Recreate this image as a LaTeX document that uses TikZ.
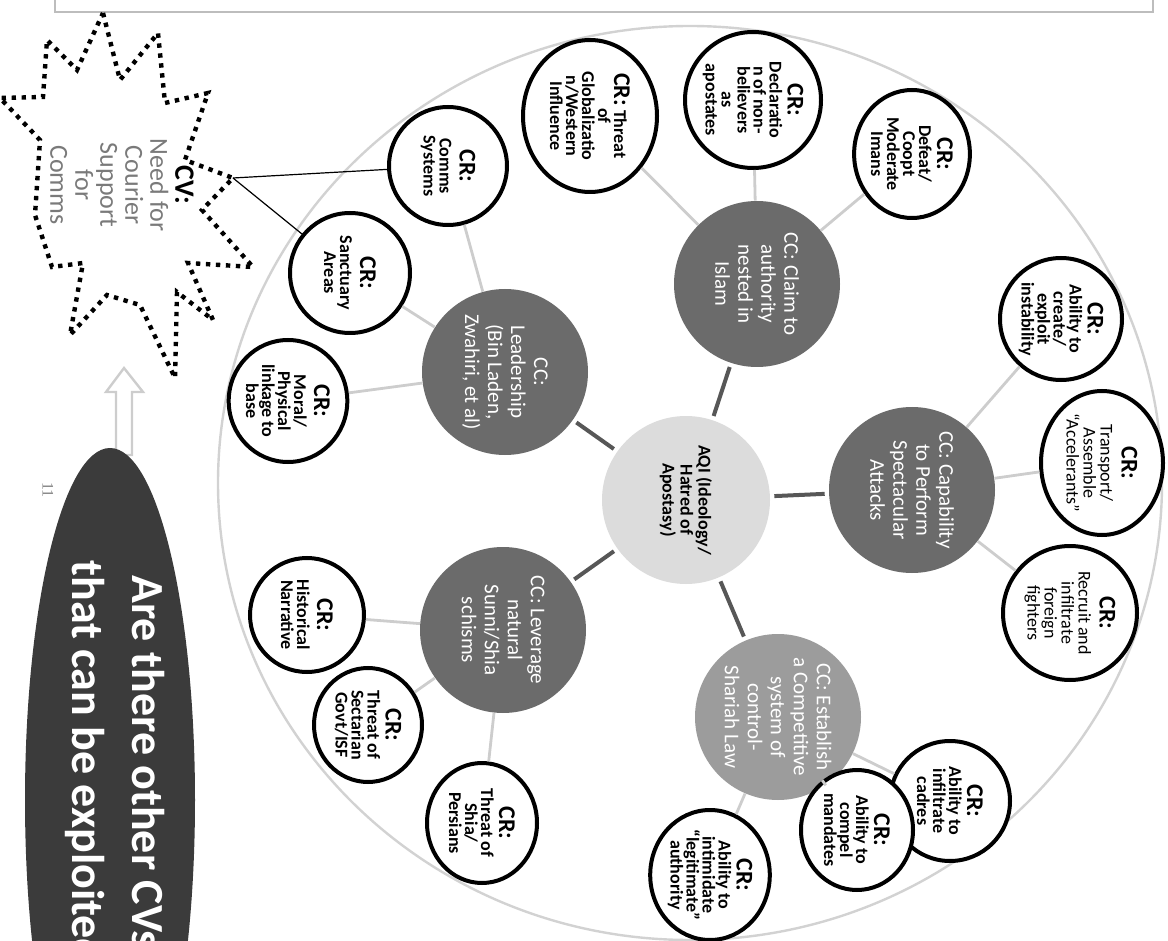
\documentclass[tikz,border=0pt]{standalone}
\usepackage{fontspec}
\setmainfont{Carlito}
\newfontfamily\numfont{Liberation Serif}
\usetikzlibrary{shapes.geometric}
\definecolor{ccdark}{HTML}{6B6B6B}
\definecolor{cclight}{HTML}{9C9C9C}
\definecolor{aqifill}{HTML}{DCDCDC}
\definecolor{spokegray}{HTML}{575757}
\definecolor{twiggray}{HTML}{CDCDCD}
\definecolor{rimgray}{HTML}{D2D2D2}
\definecolor{boxgray}{HTML}{BDBDBD}
\definecolor{askfill}{HTML}{3B3B3B}
\definecolor{cvgray}{HTML}{7A7A7A}
\tikzset{
  crnode/.style={circle, draw=black, line width=2pt, fill=white, minimum size=59pt,
    inner sep=0pt, align=center, rotate=-90, font=\fontsize{9}{8}\selectfont\bfseries},
  ccnode/.style={circle, fill=ccdark, minimum size=83pt, inner sep=0pt, align=center,
    rotate=-90, text=white, font=\fontsize{10.5}{11.5}\selectfont},
  aqinode/.style={circle, fill=aqifill, minimum size=84pt, inner sep=0pt, align=center,
    rotate=-90, font=\fontsize{9}{9}\selectfont\bfseries},
  spoke/.style={draw=spokegray, line width=2pt, shorten <=2pt, shorten >=2pt},
  twig/.style={draw=twiggray, line width=1.4pt},
  cvstar/.style={draw=black, line width=2.2pt, dash pattern=on 2.2pt off 2.8pt, fill=white},
  cvlink/.style={draw=black, line width=0.6pt},
}
\newcommand{\crhead}{{\fontsize{12}{12}\selectfont CR:}}
\begin{document}
\begin{tikzpicture}[x=0.5pt, y=-0.5pt]
  \useasboundingbox (0,0) rectangle (1168,941);
  \clip (0,0) rectangle (1168,941);
  % slide title frame and outer ring
  \draw[boxgray, line width=0.8pt] (55,-20) rectangle (1153,12);
  \draw[rimgray, line width=1.2pt] (690,483) ellipse [x radius=236pt, y radius=228.5pt];

  % centre and critical capabilities
  \node[aqinode] (aqi) at (686,500) {AQI (Ideology/\\Hatred of\\Apostasy)};
  \node[ccnode] (lead) at (505,372) {CC:\\Leadership\\(Bin Laden,\\Zwahiri, et al)};
  \node[ccnode] (claim) at (757,284) {CC: Claim to\\authority\\nested in\\Islam};
  \node[ccnode] (capab) at (912,490) {CC: Capability\\to Perform\\Spectacular\\Attacks};
  \node[ccnode, fill=cclight] (estab) at (778,717) {CC: Establish\\a Competitive\\system of\\control-\\Shariah Law};
  \node[ccnode] (lever) at (503,630) {CC: Leverage\\natural\\Sunni/Shia\\schisms};

  % critical requirements
  \node[crnode] (comms) at (448,166) {\crhead\\[2pt]Comms\\Systems};
  \node[crnode, minimum size=60pt] (sanct) at (350,273) {\crhead\\[2pt]Sanctuary\\Areas};
  \node[crnode, ellipse, minimum width=61pt, minimum height=58pt] (moral) at (288,401) {\crhead\\[2pt]Moral/\\Physical\\linkage to\\base};
  \node[crnode, ellipse, minimum width=76pt, minimum height=67pt] (glob) at (590,116) {\crhead{} Threat\\of\\Globalizatio\\n/Western\\Influence};
  \node[crnode, minimum size=68pt] (decl) at (753,100) {\crhead\\[1pt]Declaratio\\n of non-\\believers\\as\\apostates};
  \node[crnode, ellipse, minimum width=64pt, minimum height=57pt] (defeat) at (912,154) {\crhead\\[1pt]Defeat/\\Coopt\\Moderate\\Imans};
  \node[crnode, minimum size=61pt] (instab) at (1061,319) {\crhead\\[1pt]Ability to\\create/\\exploit\\instability};
  \node[crnode, ellipse, minimum width=72pt, minimum height=61pt, font=\fontsize{9}{8.5}\selectfont] (transp) at (1102,463) {\textbf{\crhead}\\[2pt]Transport/\\Assemble\\``Accelerants''};
  \node[crnode, minimum size=67pt, font=\fontsize{9}{8.5}\selectfont] (recruit) at (1070,613) {\textbf{\crhead}\\[2pt]Recruit and\\infiltrate\\foreign\\fighters};
  \node[crnode, minimum size=60pt] (cadres) at (950,801) {\crhead\\[1pt]Ability to\\infiltrate\\cadres};
  \node[crnode, ellipse, minimum width=60pt, minimum height=56pt] (mandates) at (857,830) {\crhead\\[1pt]Ability to\\compel\\mandates};
  \node[crnode, ellipse, minimum width=65pt, minimum height=57pt] (intim) at (710,875) {\crhead\\[1pt]Ability to\\intimidate\\``legitimate''\\authority};
  \node[crnode, ellipse, minimum width=60pt, minimum height=55pt] (shia) at (482,823) {\crhead\\[1pt]Threat of\\Shia/\\Persians};
  \node[crnode, ellipse, minimum width=57pt, minimum height=54pt] (sect) at (368,725) {\crhead\\[1pt]Threat of\\Sectarian\\Govt/ISF};
  \node[crnode, minimum size=57pt] (hist) at (307,615) {\crhead\\[2pt]Historical\\Narrative};

  % links
  \draw[spoke] (aqi) -- (lead);
  \draw[spoke] (aqi) -- (claim);
  \draw[spoke] (aqi) -- (capab);
  \draw[spoke] (aqi) -- (estab);
  \draw[spoke] (aqi) -- (lever);
  \draw[twig] (lead) -- (comms);
  \draw[twig] (lead) -- (sanct);
  \draw[twig] (lead) -- (moral);
  \draw[twig] (claim) -- (glob);
  \draw[twig] (claim) -- (decl);
  \draw[twig] (claim) -- (defeat);
  \draw[twig] (capab) -- (instab);
  \draw[twig] (capab) -- (transp);
  \draw[twig] (capab) -- (recruit);
  \draw[twig] (estab) -- (cadres);
  \draw[twig] (estab) -- (mandates);
  \draw[twig] (estab) -- (intim);
  \draw[twig] (lever) -- (shia);
  \draw[twig] (lever) -- (sect);
  \draw[twig] (lever) -- (hist);

  % critical vulnerability burst
  \draw[cvstar] (103,13) -- (120,80) -- (158,33) -- (165,103) -- (208,93) -- (185,160)
    -- (233,178) -- (202,210) -- (253,267) -- (188,263) -- (213,320) -- (177,292)
    -- (175,378) -- (140,305) -- (107,295) -- (70,335) -- (83,263) -- (52,267)
    -- (35,215) -- (40,140) -- (0,98) -- (43,97) -- (47,40) -- (77,70) -- cycle;
  \coordinate (cvtip) at (233,178);
  \node[rotate=-90, align=center, text=cvgray, font=\fontsize{13}{12.5}\selectfont] (cv) at (122,185)
    {\textcolor{black}{\fontsize{14}{14}\selectfont\bfseries CV:}\\Need for\\Courier\\Support\\for\\Comms};
  \draw[cvlink] (cvtip) -- (comms);
  \draw[cvlink] (cvtip) -- (sanct);

  % question bubble with hollow arrow
  \draw[draw=twiggray, line width=1.2pt, fill=white] (124,368) -- (143,392) -- (132,392)
    -- (132,455) -- (116,455) -- (116,392) -- (106,392) -- cycle;
  \fill[askfill] (110,800) ellipse [x radius=42.5pt, y radius=176pt];
  \node[rotate=-90, align=center, text=white, font=\fontsize{23}{30}\selectfont\bfseries] (ask) at (115,762)
    {Are there other CVs\\that can be exploited};
  \node[rotate=-90, text=gray, font=\numfont\fontsize{8}{8}\selectfont] (pagenum) at (48,490) {11};
\end{tikzpicture}
\end{document}
